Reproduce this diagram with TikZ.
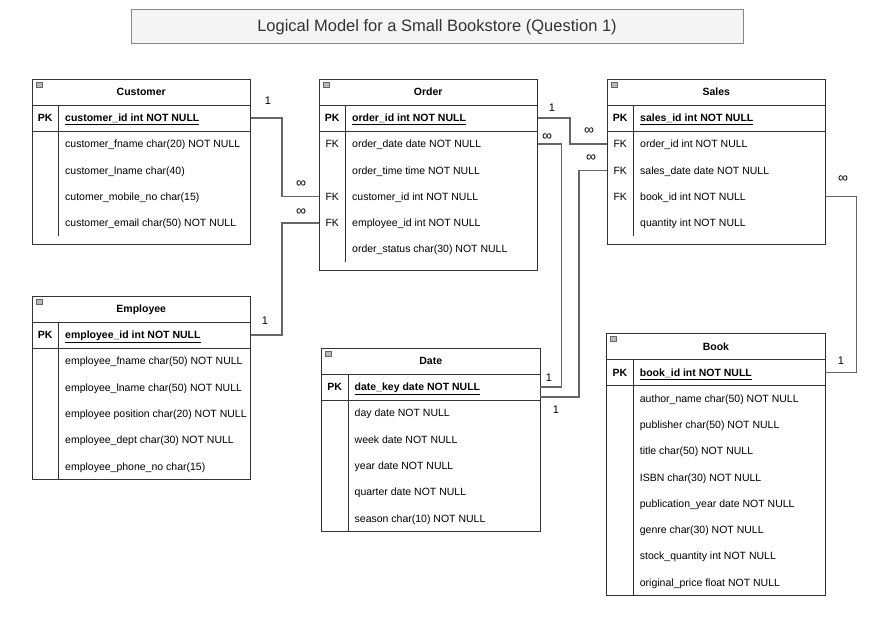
\documentclass[tikz,border=0pt]{standalone}
\usepackage{fontspec}
\setmainfont{Liberation Sans}
\usetikzlibrary{calc}
\definecolor{tborder}{HTML}{333333}
\definecolor{conncol}{HTML}{666666}
\definecolor{titlefill}{HTML}{F5F5F5}
\definecolor{titleborder}{HTML}{888888}
\tikzset{
 tbl/.style={draw=tborder, line width=0.9pt, fill=white, minimum width=218.5pt, inner sep=0pt, outer sep=0pt},
 tline/.style={draw=tborder, line width=0.9pt},
 fixh/.style={text height=7.6pt, text depth=0pt, inner sep=0pt},
 hdr/.style={fixh, font=\fontsize{10.5}{12}\selectfont\bfseries},
 keytxt/.style={fixh, font=\fontsize{10.5}{12}\selectfont},
 pkkey/.style={fixh, font=\fontsize{10.5}{12}\selectfont\bfseries},
 ftxt/.style={fixh, anchor=west, font=\fontsize{10.5}{12}\selectfont},
 pktxt/.style={fixh, anchor=west, font=\fontsize{10.5}{12}\selectfont\bfseries},
 conn/.style={draw=conncol, line width=1.3pt},
 card/.style={fixh, font=\fontsize{11}{12}\selectfont, text=black},
 inf/.style={inner sep=0pt, font=\fontsize{14}{14}\selectfont, text=black},
}
% #1 name, #2 left, #3 top, #4 rows, #5 pad, #6 title, #7 pk field, #8 rows
\newcommand\ertab[8]{%
 \pgfmathsetmacro\tabh{52+#4*26.3+#5}%
 \node[tbl, minimum height=\tabh pt, anchor=north west] (#1) at (#2,#3) {};
 \draw[tline] (#2,#3+26) -- (#2+218.5,#3+26);
 \draw[tline] (#2,#3+52) -- (#2+218.5,#3+52);
 \draw[tline] (#2+26.5,#3+26) -- (#2+26.5,#3+52+#4*26.3);
 \filldraw[fill=gray!55, draw=gray!80!black, line width=0.5pt] (#2+4,#3+3) rectangle (#2+10,#3+8);
 \node[hdr] (#1-t) at (#2+109.25,#3+13) {#6};
 \node[pkkey] (#1-k0) at (#2+13.25,#3+39) {PK};
 \node[pktxt] (#1-f0) at (#2+33,#3+39) {\underline{#7}};
 \foreach \k/\t [count=\i] in {#8} {
  \node[keytxt] (#1-k\i) at (#2+13.25, #3+65+\i*26.3-26.3) {\k};
  \node[ftxt] (#1-f\i) at (#2+33, #3+65+\i*26.3-26.3) {\t};
 }
}
\begin{document}
\begin{tikzpicture}[x=1pt,y=-1pt]
\fill[white] (0,0) rectangle (872,617);
\useasboundingbox (0,0) rectangle (872,617);

\node[draw=titleborder, fill=titlefill, line width=1pt, minimum width=612pt, minimum height=34pt, inner sep=0pt, font=\fontsize{16.5}{18}\selectfont, text=black!80] (title) at (437,27) {Logical Model for a Small Bookstore (Question 1)};

\ertab{cust}{32}{79}{4}{8}{Customer}{customer\_id int NOT NULL}{{}/customer\_fname char(20) NOT NULL, {}/customer\_lname char(40), {}/cutomer\_mobile\_no char(15), {}/customer\_email char(50) NOT NULL}

\ertab{ord}{319}{79}{5}{8}{Order}{order\_id int NOT NULL}{FK/order\_date date NOT NULL, {}/order\_time time NOT NULL, FK/customer\_id int NOT NULL, FK/employee\_id int NOT NULL, {}/order\_status char(30) NOT NULL}

\ertab{sales}{607}{79}{4}{8}{Sales}{sales\_id int NOT NULL}{FK/order\_id int NOT NULL, FK/sales\_date date NOT NULL, FK/book\_id int NOT NULL, {}/quantity int NOT NULL}

\ertab{emp}{32}{296}{5}{0}{Employee}{employee\_id int NOT NULL}{{}/employee\_fname char(50) NOT NULL, {}/employee\_lname char(50) NOT NULL, {}/employee position char(20) NOT NULL, {}/employee\_dept char(30) NOT NULL, {}/employee\_phone\_no char(15)}

\ertab{date}{321.5}{348}{5}{0}{Date}{date\_key date NOT NULL}{{}/day date NOT NULL, {}/week date NOT NULL, {}/year date NOT NULL, {}/quarter date NOT NULL, {}/season char(10) NOT NULL}

\ertab{book}{606.7}{333.3}{8}{0}{Book}{book\_id int NOT NULL}{{}/author\_name char(50) NOT NULL, {}/publisher char(50) NOT NULL, {}/title char(50) NOT NULL, {}/ISBN char(30) NOT NULL, {}/publication\_year date NOT NULL, {}/genre char(30) NOT NULL, {}/stock\_quantity int NOT NULL, {}/original\_price float NOT NULL}

% connectors
\draw[conn] (cust.east |- cust-f0) -- ++(31.5,0) |- (ord.west |- ord-k3);
\draw[conn] (emp.east |- emp-f0) -- ++(31.5,0) |- (ord.west |- ord-k4);
\draw[conn] (ord.east |- ord-f0) -- ++(32.5,0) |- (sales.west |- sales-k1);
\draw[conn] (ord.east |- ord-k1) -- ++(24,0) |- (date.east |- date-f0);
\path (date.east |- date-f0) ++(0,10) coordinate (dlow);
\draw[conn] (sales.west |- sales-k2) -- ++(-28,0) |- (dlow);
\draw[conn] (sales.east |- sales-k3) -- ++(31,0) |- (book.east |- book-f0);

% cardinalities
\node[card] (c1) at (268,101) {1};
\node[inf] (c2) at (301,184) {∞};
\node[card] (c3) at (265,321) {1};
\node[inf] (c4) at (301,212) {∞};
\node[card] (c5) at (552,108) {1};
\node[inf] (c6) at (589,131) {∞};
\node[inf] (c7) at (547,137) {∞};
\node[card] (c8) at (549,378) {1};
\node[inf] (c9) at (591,158) {∞};
\node[card] (c10) at (556,410) {1};
\node[inf] (c11) at (843,179) {∞};
\node[card] (c12) at (841,361) {1};
\end{tikzpicture}
\end{document}
